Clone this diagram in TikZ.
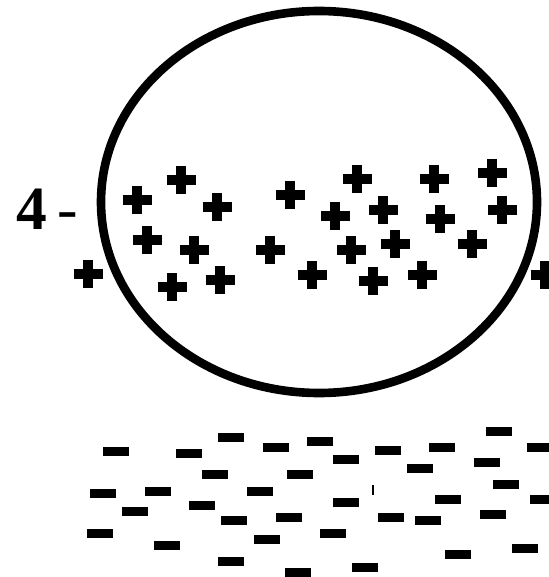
\documentclass[tikz,border=0pt]{standalone}
\usepackage{fontspec}
\setmainfont{Liberation Serif}
\usepackage{tikz}

\begin{document}
\begin{tikzpicture}[x=0.02cm, y=-0.02cm,
    poscharge/.pic={\draw [line width=5.7pt] (-14.5,0) -- (14.5,0) (0,-14) -- (0,14);},
    negcharge/.pic={\fill (-13,-4.5) rectangle (13,4.5);},
    ball/.style={line width=4.9pt}]
    \useasboundingbox (0,0) rectangle (548,577);
    % sphere
    \coordinate (c) at (319,202);
    \draw [ball] (c) ellipse [x radius=218, y radius=191];
    \node [anchor=base west, inner sep=0, font=\fontsize{35}{40}\selectfont] (lbl) at (16,230) {\textbf{4}\,-};
    % positive charges
    \foreach \px/\py in {181/180, 137/200, 217/207, 147/240, 194/250, 88/274, 172/287, 220/280,
        270/250, 290/195, 357/179, 434/179, 492/173, 335/216, 383/210, 440/219, 502/210,
        351/250, 395/244, 472/244, 312/275, 373/281, 422/275, 545/275}
        \pic at (\px,\py) {poscharge};
    % negative charges
    \foreach \px/\py in {116/451, 189/453, 231/437, 276/447, 320/441, 388/450, 442/447, 499/431, 540/447,
        215/474, 300/474, 346/459, 420/468, 487/462,
        103/493, 158/491, 260/491, 506/484,
        202/505, 346/502, 448/499, 543/499,
        135/511, 234/520, 289/517, 391/517, 428/520, 493/514,
        100/533, 333/533, 167/545, 267/539, 525/548, 458/554,
        231/561, 298/572, 365/567}
        \pic at (\px,\py) {negcharge};
    \draw [line width=1.5pt] (373,485) -- (373,495);
\end{tikzpicture}
\end{document}
